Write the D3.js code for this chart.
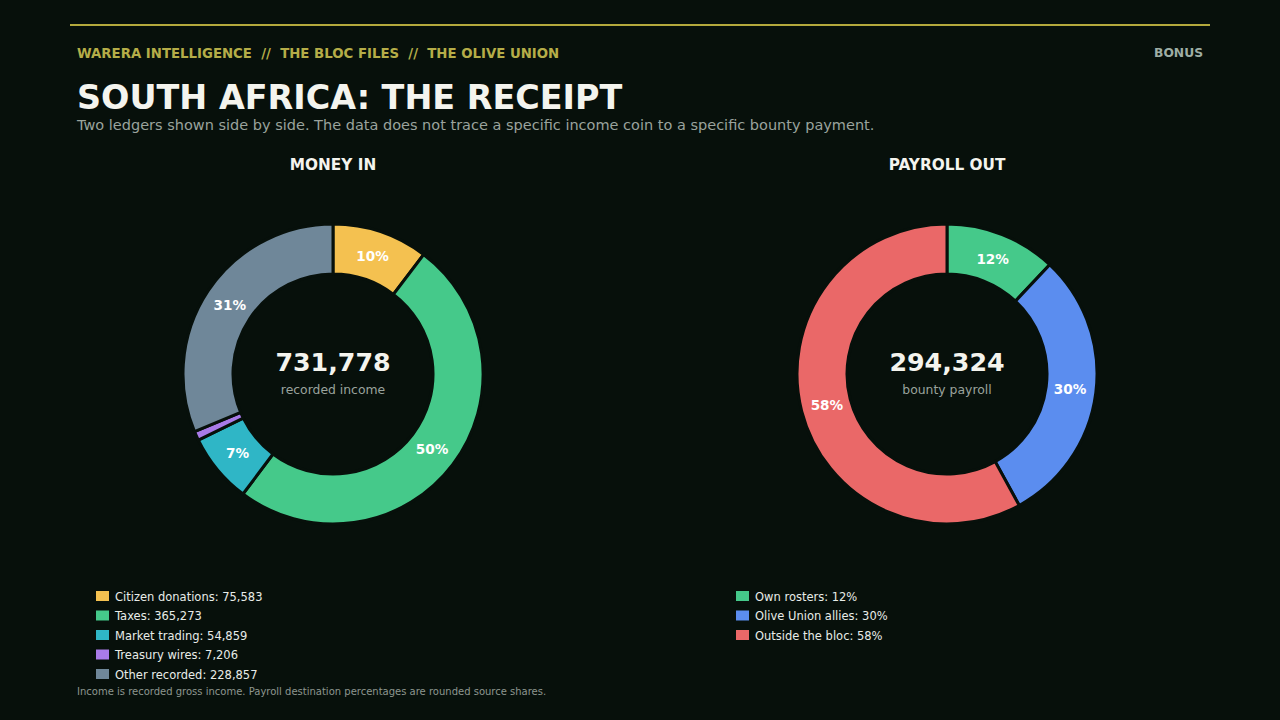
<!DOCTYPE html>
<html><head><meta charset="utf-8">
<script src="https://cdn.jsdelivr.net/npm/d3@7"></script>
<style>
html,body{margin:0;padding:0;background:#07100b;}
svg{display:block;font-family:"DejaVu Sans",sans-serif;}
</style></head>
<body><svg id="c" width="1280" height="720"></svg>
<script>
const incomeCategories = ["Citizen donations","Taxes","Market trading","Treasury wires","Other recorded"];
const incomeValues = [75583, 365273, 54859, 7206, 228857];
const incomeColors = ["#f4c150","#45c98a","#2fb6c6","#a97be8","#6f8799"];
const payrollCategories = ["Own rosters","Olive Union allies","Outside the bloc"];
const payrollValues = [12, 30, 58];
const payrollColors = ["#45c98a","#5b8def","#ea6868"];

const svg = d3.select("#c");
const bg = "#07100b";
svg.append("rect").attr("width",1280).attr("height",720).attr("fill",bg);
svg.append("line").attr("x1",70).attr("x2",1210).attr("y1",25).attr("y2",25)
  .attr("stroke","#b3a93c").attr("stroke-width",2);
svg.append("text").attr("x",77).attr("y",58).attr("fill","#b5ad48")
  .attr("font-size",13.3).attr("font-weight","bold").attr("xml:space","preserve")
  .text("WARERA INTELLIGENCE  //  THE BLOC FILES  //  THE OLIVE UNION");
svg.append("text").attr("x",1203).attr("y",57).attr("text-anchor","end").attr("fill","#9eaea5")
  .attr("font-size",12.3).attr("font-weight","bold").text("BONUS");
svg.append("text").attr("x",77).attr("y",109).attr("fill","#f4f4ee")
  .attr("font-size",33.4).attr("font-weight","bold").text("SOUTH AFRICA: THE RECEIPT");
svg.append("text").attr("x",77).attr("y",130).attr("fill","#9aa39d")
  .attr("font-size",14.5).text("Two ledgers shown side by side. The data does not trace a specific income coin to a specific bounty payment.");
svg.append("text").attr("x",77).attr("y",695).attr("fill","#8d968f")
  .attr("font-size",10).text("Income is recorded gross income. Payroll destination percentages are rounded source shares.");

const fmt = d3.format(",");
function donut(cx, title, cats, vals, cols, centerText, centerSub, legendX, legendLabel){
  svg.append("text").attr("x",cx).attr("y",170).attr("text-anchor","middle").attr("fill","#f4f4ee")
    .attr("font-size",15.3).attr("font-weight","bold").text(title);
  const g = svg.append("g").attr("transform",`translate(${cx},374)`);
  const pie = d3.pie().sort(null).value(d=>d.v);
  const data = pie(cats.map((c,i)=>({c, v:vals[i], col:cols[i]})));
  const arc = d3.arc().innerRadius(100).outerRadius(150);
  const lab = d3.arc().innerRadius(124).outerRadius(124);
  const total = d3.sum(vals);
  g.selectAll("path").data(data).join("path").attr("d",arc).attr("fill",d=>d.data.col)
    .attr("stroke",bg).attr("stroke-width",3);
  g.selectAll("text.p").data(data.filter(d=>d.data.v/total>=0.03)).join("text").attr("class","p")
    .attr("transform",d=>`translate(${lab.centroid(d)})`).attr("text-anchor","middle").attr("dy","0.36em")
    .attr("fill","#ffffff").attr("font-size",13.6).attr("font-weight","bold")
    .text(d=>Math.round(d.data.v/total*100)+"%");
  g.append("text").attr("y",-3).attr("text-anchor","middle").attr("fill","#f4f4ee")
    .attr("font-size",25.3).attr("font-weight","bold").text(centerText);
  g.append("text").attr("y",20).attr("text-anchor","middle").attr("fill","#9aa39d")
    .attr("font-size",12.4).text(centerSub);
  const lg = svg.append("g");
  cats.forEach((c,i)=>{
    const y = 596 + i*19.5;
    lg.append("rect").attr("x",legendX).attr("y",y-5).attr("width",13).attr("height",10).attr("fill",cols[i]);
    lg.append("text").attr("x",legendX+19).attr("y",y+4.5).attr("fill","#e8ece8").attr("font-size",11.5)
      .text(legendLabel(c,vals[i]));
  });
}
donut(333,"MONEY IN",incomeCategories,incomeValues,incomeColors,fmt(d3.sum(incomeValues)),"recorded income",96,(c,v)=>`${c}: ${fmt(v)}`);
donut(947,"PAYROLL OUT",payrollCategories,payrollValues,payrollColors,"294,324","bounty payroll",736,(c,v)=>`${c}: ${v}%`);
</script></body></html>
